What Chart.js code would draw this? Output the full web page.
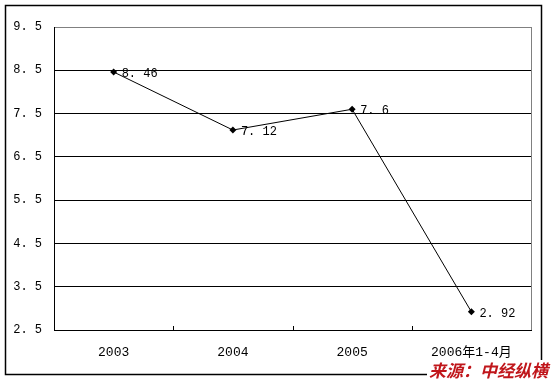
<!DOCTYPE html>
<html><head><meta charset="utf-8">
<script src="https://cdn.jsdelivr.net/npm/chart.js@4.4.1/dist/chart.umd.min.js"></script>
<style>html,body{margin:0;padding:0;background:#fff}#wrap{width:555px;height:381px;position:relative}</style>
</head><body><div id="wrap"><canvas id="c" width="555" height="381"></canvas></div>
<script>
const categories = ["2003", "2004", "2005", "2006年1-4月"];
const values = [8.46, 7.12, 7.6, 2.92];
const yTicks = [2.5, 3.5, 4.5, 5.5, 6.5, 7.5, 8.5, 9.5];
const sourceText = "来源：中经纵横";

const monoFont = '"Liberation Mono", "Noto Sans CJK SC", monospace';
const fmt = v => String(v).replace('.', '. ');

const framePlugin = {
  id: 'frame',
  beforeDraw(chart) {
    const ctx = chart.ctx;
    ctx.save();
    ctx.fillStyle = '#fff';
    ctx.fillRect(0, 0, chart.width, chart.height);
    ctx.strokeStyle = '#000';
    ctx.lineWidth = 1.5;
    ctx.strokeRect(5.5, 5.5, 536, 369);
    ctx.restore();
  },
  afterDatasetsDraw(chart) {
    const ctx = chart.ctx;
    const a = chart.chartArea;
    const xs = chart.scales.x;
    ctx.save();
    ctx.strokeStyle = '#808080';
    ctx.lineWidth = 1;
    ctx.beginPath();
    ctx.moveTo(Math.round(a.right) + 0.5, a.top);
    ctx.lineTo(Math.round(a.right) + 0.5, a.bottom);
    ctx.stroke();
    ctx.strokeStyle = '#000';
    ctx.beginPath();
    for (let i = 1; i < categories.length; i++) {
      const x = Math.round((xs.getPixelForValue(i - 1) + xs.getPixelForValue(i)) / 2) + 0.5;
      ctx.moveTo(x, a.bottom - 4);
      ctx.lineTo(x, a.bottom);
    }
    ctx.stroke();
    const meta = chart.getDatasetMeta(0);
    ctx.fillStyle = '#000';
    ctx.font = '12px ' + monoFont;
    ctx.textAlign = 'left';
    ctx.textBaseline = 'middle';
    meta.data.forEach((pt, i) => {
      ctx.fillText(fmt(values[i]), pt.x + 8, pt.y + 2);
    });
    ctx.font = 'italic bold 17px "Noto Sans CJK SC", sans-serif';
    const w = ctx.measureText(sourceText).width;
    ctx.fillStyle = '#fff';
    ctx.fillRect(548 - w - 2, 360, w + 4, 19);
    ctx.fillStyle = '#c0161b';
    ctx.textAlign = 'right';
    ctx.textBaseline = 'alphabetic';
    ctx.fillText(sourceText, 548, 377);
    ctx.restore();
  }
};

new Chart(document.getElementById('c'), {
  type: 'line',
  data: {
    labels: categories,
    datasets: [{
      data: values,
      borderColor: '#000',
      borderWidth: 1,
      backgroundColor: '#000',
      pointStyle: 'rectRot',
      pointRadius: 3.5,
      pointBorderWidth: 0,
      tension: 0,
      fill: false
    }]
  },
  options: {
    responsive: false,
    animation: false,
    devicePixelRatio: 1,
    layout: { padding: { left: 0, top: 27, right: 24, bottom: 0 } },
    plugins: { legend: { display: false }, tooltip: { enabled: false } },
    scales: {
      x: {
        offset: true,
        grid: { display: false, drawTicks: false },
        border: { display: true, color: '#000', width: 1 },
        ticks: { color: '#000', padding: 15, font: { family: monoFont, size: 13 }, maxRotation: 0 },
        afterFit(s) { s.height = 51; }
      },
      y: {
        min: 2.5, max: 9.5,
        afterBuildTicks(s) { s.ticks = yTicks.map(v => ({ value: v })); },
        grid: {
          drawTicks: false,
          color: ctx => (ctx.tick && ctx.tick.value === 9.5) ? '#808080' : '#000',
          lineWidth: 1
        },
        border: { display: true, color: '#000', width: 1 },
        ticks: { color: '#000', padding: 12, font: { family: monoFont, size: 12 }, callback: v => fmt(v) },
        afterFit(s) { s.width = 54; }
      }
    }
  },
  plugins: [framePlugin]
});
</script></body></html>
